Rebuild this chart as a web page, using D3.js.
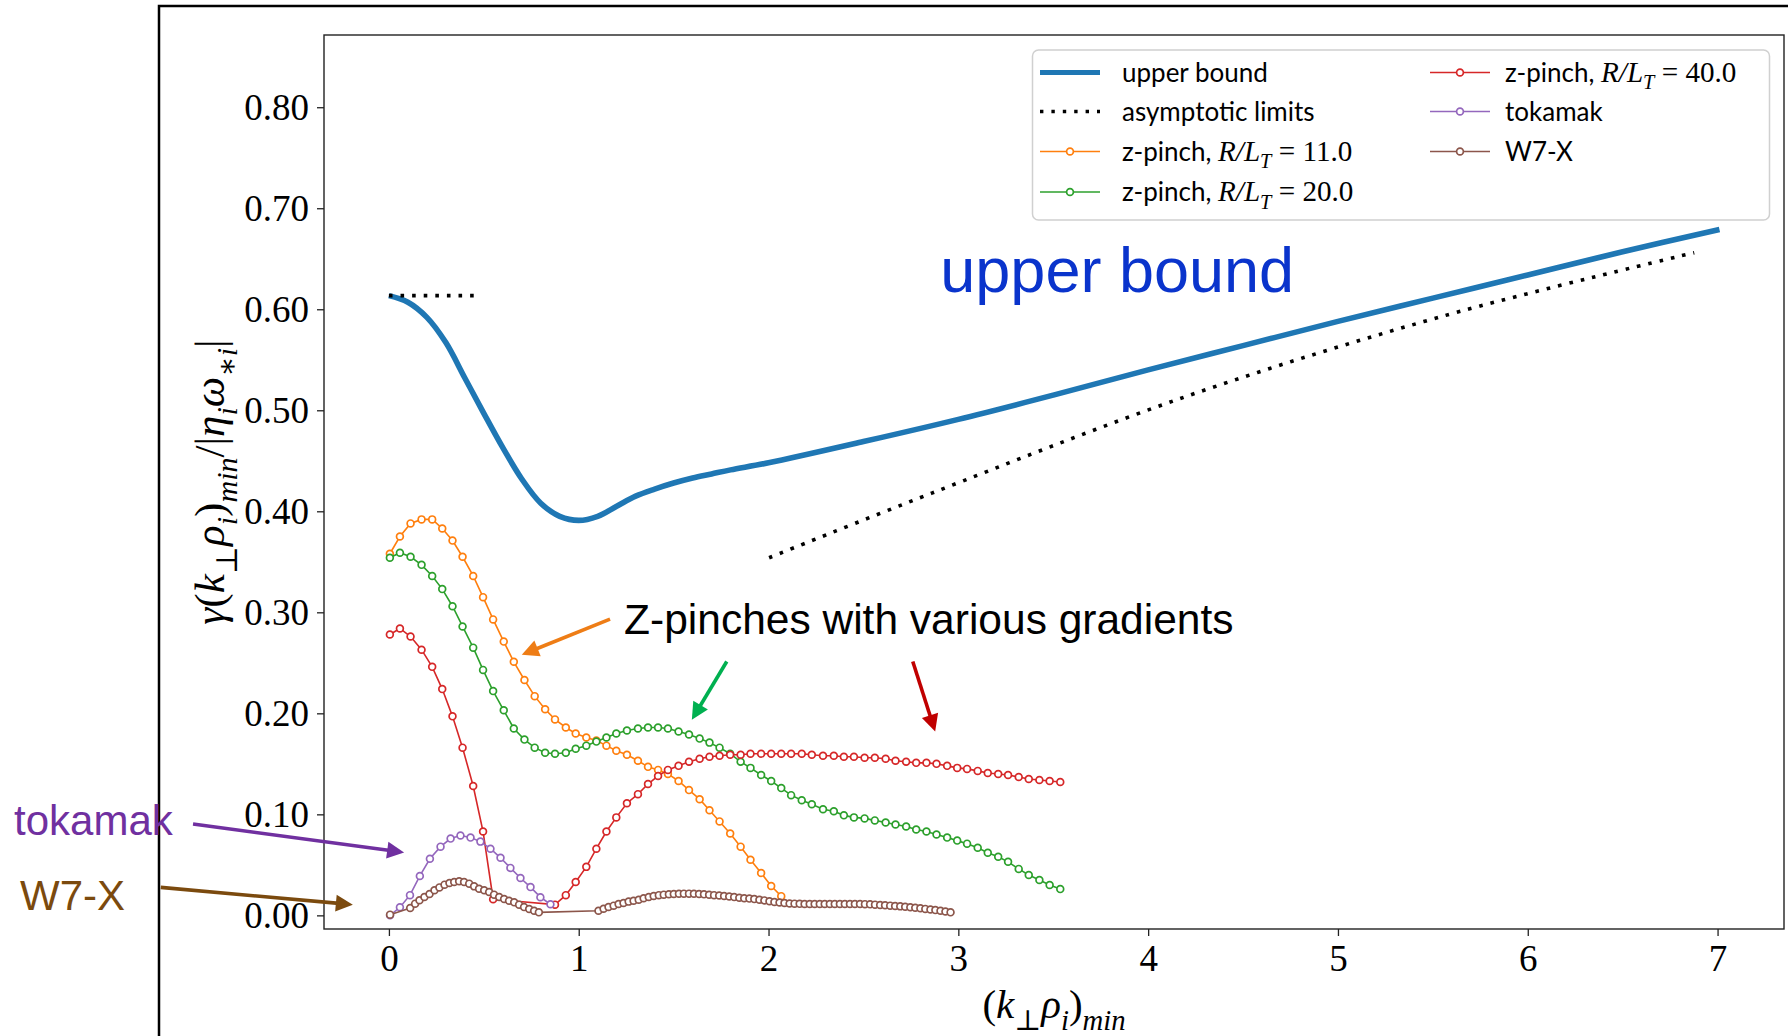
<!DOCTYPE html>
<html>
<head>
<meta charset="utf-8">
<script src="https://cdn.jsdelivr.net/npm/d3@7"></script>
<style>
  html, body { margin: 0; padding: 0; background: #fff; }
  svg { display: block; }
</style>
</head>
<body>
<svg id="chart" width="1788" height="1036"></svg>
<script>
// ---- data ---------------------------------------------------------------

// upper bound (thick blue), [k, gamma]
var upperBound = [
  [0, 0.6135], [0.1, 0.607], [0.2, 0.592], [0.3, 0.567], [0.4, 0.532],
  [0.5, 0.497], [0.6, 0.463], [0.7, 0.432], [0.8, 0.408], [0.9, 0.395],
  [1.0, 0.391], [1.1, 0.395], [1.2, 0.405], [1.3, 0.415], [1.4, 0.422],
  [1.5, 0.428], [1.6, 0.433], [1.7, 0.437], [1.8, 0.441], [2.0, 0.448],
  [2.5, 0.469], [3.0, 0.491], [3.5, 0.515], [4.0, 0.540], [4.5, 0.564],
  [5.0, 0.588], [5.5, 0.611], [6.0, 0.634], [6.5, 0.657], [7.01, 0.679]
];

// asymptotic limits (dotted)
var limitLow = [[0, 0.6135], [0.48, 0.6135]];
var limitHigh = [[2.003, 0.354], [2.86, 0.418], [4.205, 0.514], [5.549, 0.593], [6.877, 0.656]];

// k grid shared by the three z-pinch runs
var zpinchK = [
  0.005, 0.058, 0.114, 0.172, 0.228, 0.281, 0.335, 0.388, 0.444, 0.496,
  0.549, 0.605, 0.658, 0.714, 0.768, 0.823, 0.875, 0.932, 0.984, 1.040,
  1.093, 1.146, 1.198, 1.254, 1.312, 1.365, 1.418, 1.470, 1.526, 1.581,
  1.637, 1.689, 1.742, 1.798, 1.853, 1.905, 1.961, 2.014, 2.067, 2.119,
  2.175, 2.228, 2.287, 2.344, 2.397, 2.450, 2.506, 2.560, 2.617, 2.669,
  2.725, 2.778, 2.832, 2.885, 2.941, 2.994, 3.046, 3.102, 3.155, 3.210,
  3.262, 3.318, 3.371, 3.427, 3.481, 3.537
];

// R/L_T = 11 (stops at k ~ 2.07)
var zpinch11 = [
  0.358, 0.375, 0.388, 0.392, 0.392, 0.383, 0.371, 0.355, 0.336, 0.315,
  0.293, 0.271, 0.251, 0.233, 0.217, 0.204, 0.194, 0.186, 0.180, 0.176,
  0.173, 0.168, 0.163, 0.159, 0.153, 0.147, 0.144, 0.140, 0.133, 0.124,
  0.115, 0.104, 0.093, 0.081, 0.068, 0.055, 0.042, 0.029, 0.019
];

// R/L_T = 20
var zpinch20 = [
  0.354, 0.359, 0.355, 0.347, 0.336, 0.323, 0.306, 0.286, 0.265, 0.243,
  0.222, 0.203, 0.185, 0.174, 0.166, 0.161, 0.160, 0.161, 0.165, 0.168,
  0.172, 0.176, 0.180, 0.183, 0.185, 0.186, 0.186, 0.185, 0.182, 0.179,
  0.175, 0.171, 0.166, 0.160, 0.152, 0.146, 0.139, 0.133, 0.126, 0.119,
  0.114, 0.110, 0.105, 0.103, 0.099, 0.097, 0.096, 0.094, 0.092, 0.090,
  0.088, 0.085, 0.083, 0.080, 0.077, 0.074, 0.071, 0.067, 0.062, 0.058,
  0.053, 0.046, 0.040, 0.035, 0.030, 0.026
];

// R/L_T = 40 (points hidden under the W7-X markers left as null)
var zpinch40 = [
  0.278, 0.284, 0.276, 0.263, 0.246, 0.224, 0.197, 0.166, 0.128, 0.083,
  0.016, null, null, null, null, null, 0.0106, 0.020, 0.033, 0.048,
  0.066, 0.083, 0.097, 0.111, 0.120, 0.130, 0.138, 0.144, 0.148, 0.152,
  0.155, 0.157, 0.158, 0.159, 0.159, 0.160, 0.160, 0.160, 0.160, 0.160,
  0.160, 0.159, 0.158, 0.158, 0.157, 0.157, 0.156, 0.156, 0.155, 0.153,
  0.152, 0.151, 0.151, 0.150, 0.148, 0.146, 0.145, 0.143, 0.141, 0.140,
  0.139, 0.137, 0.135, 0.134, 0.133, 0.132
];

var tokamakK = [0.006, 0.058, 0.111, 0.163, 0.216, 0.272, 0.325, 0.377, 0.430,
  0.482, 0.535, 0.588, 0.640, 0.693, 0.746, 0.798, 0.851];
var tokamakG = [0.000, 0.008, 0.020, 0.039, 0.056, 0.068, 0.076, 0.079, 0.077,
  0.073, 0.066, 0.057, 0.047, 0.037, 0.028, 0.018, 0.011];

var w7xK = [
  0.006, 0.112, 0.138, 0.161, 0.187, 0.214, 0.240, 0.266, 0.293, 0.319,
  0.344, 0.370, 0.396, 0.423, 0.449, 0.475, 0.502, 0.528, 0.554, 0.581,
  0.607, 0.633, 0.660, 0.686, 0.712, 0.739, 0.765, 0.790,
  1.104, 1.131, 1.157, 1.184, 1.210, 1.236, 1.263, 1.289, 1.316, 1.342,
  1.369, 1.395, 1.422, 1.448, 1.475, 1.501, 1.528, 1.554, 1.581, 1.607,
  1.634, 1.660, 1.687, 1.713, 1.740, 1.766, 1.793, 1.819, 1.846, 1.872,
  1.899, 1.925, 1.952, 1.978, 2.005, 2.031, 2.058, 2.084, 2.111, 2.137,
  2.164, 2.190, 2.217, 2.243, 2.270, 2.296, 2.323, 2.349, 2.376, 2.402,
  2.429, 2.455, 2.482, 2.508, 2.535, 2.561, 2.588, 2.614, 2.641, 2.667,
  2.694, 2.720, 2.747, 2.773, 2.800, 2.826, 2.853, 2.879, 2.906, 2.932, 2.959
];
var w7xG = [
  0.0007, 0.0073, 0.0116, 0.0149, 0.0182, 0.0211, 0.0248, 0.0277, 0.0304, 0.0320,
  0.0330, 0.0337, 0.0330, 0.0314, 0.0287, 0.0264, 0.0248, 0.0231, 0.0205, 0.0182,
  0.0162, 0.0145, 0.0129, 0.0106, 0.0082, 0.0063, 0.0046, 0.0030,
  0.0046, 0.0066, 0.0083, 0.0096, 0.0112, 0.0122, 0.0136, 0.0145, 0.0155, 0.0170,
  0.0182, 0.0192, 0.0200, 0.0205, 0.0209, 0.0212, 0.0214, 0.0215, 0.0215, 0.0214,
  0.0212, 0.0208, 0.0204, 0.0200, 0.0196, 0.0191, 0.0186, 0.0181, 0.0175, 0.0170,
  0.0166, 0.0161, 0.0155, 0.0148, 0.0140, 0.0133, 0.0127, 0.0122, 0.0118, 0.0116,
  0.0114, 0.0113, 0.0113, 0.0113, 0.0113, 0.0113, 0.0113, 0.0113, 0.0113, 0.0113,
  0.0113, 0.0113, 0.0112, 0.0111, 0.0109, 0.0106, 0.0103, 0.0100, 0.0096, 0.0093,
  0.0089, 0.0085, 0.0080, 0.0075, 0.0070, 0.0064, 0.0058, 0.0052, 0.0045, 0.0038, 0.0030
];

var xTicks = [0, 1, 2, 3, 4, 5, 6, 7];
var yTicks = [0, 0.1, 0.2, 0.3, 0.4, 0.5, 0.6, 0.7, 0.8];

// slide annotations, in data units: arrows from -> to, and labels
var arrows = [
  { from: [1.165, 0.2933], to: [0.700, 0.258], color: "#ee7d16" },
  { from: [1.780, 0.2513], to: [1.596, 0.1936], color: "#00b050" },
  { from: [2.760, 0.2513], to: [2.878, 0.182], color: "#c00000" },
  { from: [-1.032, 0.0904], to: [0.080, 0.0623], color: "#7030a0" },
  { from: [-1.202, 0.0277], to: [-0.190, 0.0106], color: "#7b4a0e" }
];
var notes = [
  { text: "upper bound", at: [2.905, 0.6175], size: 63, color: "#0a34cc" },
  { text: "Z-pinches with various gradients", at: [1.239, 0.2788], size: 42.5, color: "#000" },
  { text: "tokamak", at: [-1.975, 0.0799], size: 42, color: "#7030a0" },
  { text: "W7-X", at: [-1.943, 0.0056], size: 42, color: "#7b4a0e" }
];

// ---- setup ---------------------------------------------------------------

var SERIF = "'Liberation Serif', 'DejaVu Serif', serif";
var SANS = "Lato, 'Noto Sans', sans-serif";
var ARIAL = "'Liberation Sans', Arial, sans-serif";
var MARK_R = 3.4;

var box = { left: 324, right: 1784, top: 35, bottom: 929 };

var svg = d3.select("#chart");
svg.append("rect").attr("width", 1788).attr("height", 1036).attr("fill", "#fff");

// outer slide frame (only left and top edges are on the page)
svg.append("path")
  .attr("d", "M159,1036V6H1788")
  .attr("fill", "none").attr("stroke", "#000").attr("stroke-width", 2.5);

var x = d3.scaleLinear().domain([-0.342, 7.35]).range([box.left, box.right]);
var y = d3.scaleLinear().domain([-0.0135, 0.8715]).range([box.bottom, box.top]);

// axes
var xAxis = svg.append("g")
  .attr("transform", "translate(0," + box.bottom + ")")
  .call(d3.axisBottom(x).tickValues(xTicks).tickSize(7).tickPadding(9)
    .tickFormat(d3.format("d")));
var yAxis = svg.append("g")
  .attr("transform", "translate(" + box.left + ",0)")
  .call(d3.axisLeft(y).tickValues(yTicks).tickSize(7).tickPadding(8)
    .tickFormat(d3.format(".2f")));
[xAxis, yAxis].forEach(function (a) {
  a.select(".domain").remove();
  a.selectAll(".tick line").attr("stroke", "#222").attr("stroke-width", 1.3);
  a.selectAll(".tick text").style("font-family", SERIF).style("font-size", "37px")
    .attr("fill", "#000");
});

svg.append("rect")
  .attr("x", box.left).attr("y", box.top)
  .attr("width", box.right - box.left).attr("height", box.bottom - box.top)
  .attr("fill", "none").attr("stroke", "#222").attr("stroke-width", 1.4);

// rich text with italic parts and subscripts
function rich(sel, parts, size) {
  var shift = 0;
  parts.forEach(function (p) {
    var s = size * (p.k || 1);
    var sub = p.sub ? size * 0.3 : 0;
    sel.append("tspan")
      .attr("dy", sub - shift)
      .style("font-size", (p.sub ? s * 0.7 : s) + "px")
      .style("font-style", p.it ? "italic" : "normal")
      .style("font-family", p.sans ? SANS : SERIF)
      .text(p.t);
    shift = sub;
  });
}

var xLabel = svg.append("text")
  .attr("x", (box.left + box.right) / 2).attr("y", 1018)
  .attr("text-anchor", "middle");
rich(xLabel, [{ t: "(" }, { t: "k", it: 1 }, { t: "⊥", sub: 1 }, { t: "ρ", it: 1 },
  { t: "i", it: 1, sub: 1 }, { t: ")" }, { t: "min", it: 1, sub: 1 }], 41);

var yLabel = svg.append("text")
  .attr("transform", "translate(224," + (box.top + box.bottom) / 2 + ") rotate(-90)")
  .attr("text-anchor", "middle");
rich(yLabel, [{ t: "γ", it: 1 }, { t: "(" }, { t: "k", it: 1 }, { t: "⊥", sub: 1 },
  { t: "ρ", it: 1 }, { t: "i", it: 1, sub: 1 }, { t: ")" }, { t: "min", it: 1, sub: 1 },
  { t: "/|" }, { t: "η", it: 1 }, { t: "i", it: 1, sub: 1 }, { t: "ω", it: 1 },
  { t: "∗i", it: 1, sub: 1 }, { t: "|" }], 43);

// ---- series --------------------------------------------------------------

var line = d3.line().x(function (d) { return x(d[0]); }).y(function (d) { return y(d[1]); });
var smooth = d3.line().curve(d3.curveCatmullRom.alpha(0.5))
  .x(function (d) { return x(d[0]); }).y(function (d) { return y(d[1]); });

var plot = svg.append("g");

plot.append("path").attr("d", smooth(upperBound))
  .attr("fill", "none").attr("stroke", "#1f77b4").attr("stroke-width", 5.6)
  .attr("stroke-linecap", "butt");

[limitLow, limitHigh].forEach(function (pts) {
  plot.append("path").attr("d", smooth(pts))
    .attr("fill", "none").attr("stroke", "#000").attr("stroke-width", 3.6)
    .attr("stroke-dasharray", "3.6,8");
});

function zip(ks, gs) {
  return ks.slice(0, gs.length).map(function (k, i) { return [k, gs[i]]; })
    .filter(function (d) { return d[1] !== null; });
}

var series = [
  { pts: zip(zpinchK, zpinch11), color: "#ff7f0e" },
  { pts: zip(zpinchK, zpinch20), color: "#2ca02c" },
  { pts: zip(zpinchK, zpinch40), color: "#d62728" },
  { pts: zip(tokamakK, tokamakG), color: "#9467bd" },
  { pts: zip(w7xK, w7xG), color: "#8c564b" }
];

series.forEach(function (s) {
  var g = plot.append("g");
  g.append("path").attr("d", line(s.pts))
    .attr("fill", "none").attr("stroke", s.color).attr("stroke-width", 1.6);
  g.selectAll("circle").data(s.pts).join("circle")
    .attr("cx", function (d) { return x(d[0]); })
    .attr("cy", function (d) { return y(d[1]); })
    .attr("r", MARK_R)
    .attr("fill", "#fff").attr("stroke", s.color).attr("stroke-width", 1.7);
});

// ---- legend --------------------------------------------------------------

var leg = svg.append("g");
leg.append("rect")
  .attr("x", 1032.5).attr("y", 50).attr("width", 737).attr("height", 170).attr("rx", 6)
  .attr("fill", "#fff").attr("fill-opacity", 0.8)
  .attr("stroke", "#d0d0d0").attr("stroke-width", 1.5);

function rt(v) {
  return [{ t: "z-pinch, ", sans: 1 }, { t: "R/L", it: 1, k: 1.12 },
    { t: "T", it: 1, sub: 1, k: 1.12 }, { t: " = " + v, k: 1.12 }];
}
var legendItems = [
  { col: 0, row: 0, kind: "thick", color: "#1f77b4", parts: [{ t: "upper bound", sans: 1 }] },
  { col: 0, row: 1, kind: "dot", color: "#000", parts: [{ t: "asymptotic limits", sans: 1 }] },
  { col: 0, row: 2, kind: "mark", color: "#ff7f0e", parts: rt("11.0") },
  { col: 0, row: 3, kind: "mark", color: "#2ca02c", parts: rt("20.0") },
  { col: 1, row: 0, kind: "mark", color: "#d62728", parts: rt("40.0") },
  { col: 1, row: 1, kind: "mark", color: "#9467bd", parts: [{ t: "tokamak", sans: 1 }] },
  { col: 1, row: 2, kind: "mark", color: "#8c564b", parts: [{ t: "W7-X", sans: 1 }] }
];
var colX = [1040, 1430], colText = [1122, 1505], rowY = [72.5, 111.5, 151.5, 192];

legendItems.forEach(function (it) {
  var x0 = colX[it.col], x1 = x0 + 60, cy = rowY[it.row];
  var h = leg.append("line").attr("x1", x0).attr("x2", x1).attr("y1", cy).attr("y2", cy)
    .attr("stroke", it.color);
  if (it.kind === "thick") h.attr("stroke-width", 5.2);
  else if (it.kind === "dot") h.attr("stroke-width", 3.4).attr("stroke-dasharray", "3.4,8");
  else {
    h.attr("stroke-width", 1.6);
    leg.append("circle").attr("cx", (x0 + x1) / 2).attr("cy", cy).attr("r", MARK_R)
      .attr("fill", "#fff").attr("stroke", it.color).attr("stroke-width", 1.7);
  }
  var t = leg.append("text").attr("x", colText[it.col]).attr("y", cy + 9).attr("fill", "#000");
  rich(t, it.parts, 26);
});

// ---- slide annotations ---------------------------------------------------

var ann = svg.append("g");
arrows.forEach(function (a) {
  var x0 = x(a.from[0]), y0 = y(a.from[1]), x1 = x(a.to[0]), y1 = y(a.to[1]);
  var dx = x1 - x0, dy = y1 - y0, len = Math.hypot(dx, dy);
  var ux = dx / len, uy = dy / len, hl = 17, hw = 8.5;
  var bx = x1 - ux * hl, by = y1 - uy * hl;
  ann.append("line").attr("x1", x0).attr("y1", y0)
    .attr("x2", bx + ux * 3).attr("y2", by + uy * 3)
    .attr("stroke", a.color).attr("stroke-width", 3.6);
  ann.append("path")
    .attr("d", "M" + x1 + "," + y1 + "L" + (bx - uy * hw) + "," + (by + ux * hw) +
      "L" + (bx + uy * hw) + "," + (by - ux * hw) + "Z")
    .attr("fill", a.color);
});

notes.forEach(function (n) {
  ann.append("text").attr("x", x(n.at[0])).attr("y", y(n.at[1]))
    .style("font-family", ARIAL).style("font-size", n.size + "px")
    .attr("fill", n.color).text(n.text);
});
</script>
</body>
</html>
